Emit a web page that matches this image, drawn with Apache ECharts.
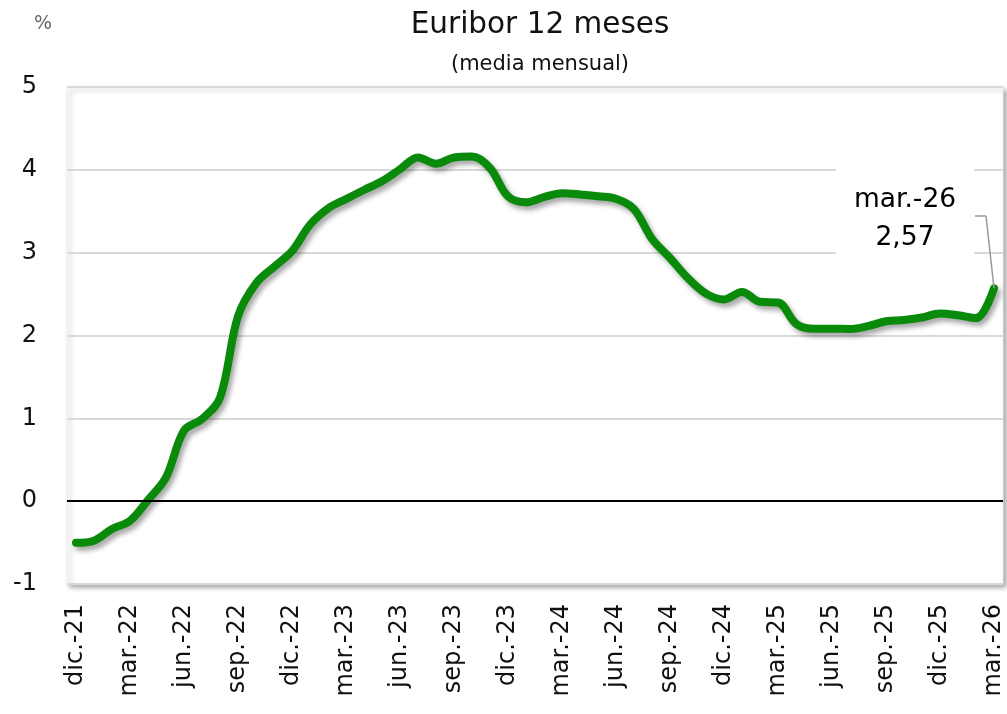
<!DOCTYPE html>
<html>
<head>
<meta charset="utf-8">
<script src="https://cdn.jsdelivr.net/npm/echarts@6/dist/echarts.min.js"></script>
<style>
  html, body { margin: 0; padding: 0; background: #fff; }
  #chart { width: 1007px; height: 714px; }
</style>
</head>
<body>
<div id="chart"></div>
<script>
// meses (dic.-21 a mar.-26)
var months = ['dic.-21',
  'ene.-22','feb.-22','mar.-22','abr.-22','may.-22','jun.-22','jul.-22','ago.-22','sep.-22','oct.-22','nov.-22','dic.-22',
  'ene.-23','feb.-23','mar.-23','abr.-23','may.-23','jun.-23','jul.-23','ago.-23','sep.-23','oct.-23','nov.-23','dic.-23',
  'ene.-24','feb.-24','mar.-24','abr.-24','may.-24','jun.-24','jul.-24','ago.-24','sep.-24','oct.-24','nov.-24','dic.-24',
  'ene.-25','feb.-25','mar.-25','abr.-25','may.-25','jun.-25','jul.-25','ago.-25','sep.-25','oct.-25','nov.-25','dic.-25',
  'ene.-26','feb.-26','mar.-26'];

// Euribor 12 meses, media mensual (%)
var euribor = [-0.502,
  -0.477, -0.335, -0.237, 0.013, 0.287, 0.852, 0.992, 1.249, 2.233, 2.629, 2.828, 3.018,
  3.337, 3.534, 3.647, 3.757, 3.862, 4.007, 4.149, 4.073, 4.149, 4.160, 4.022, 3.679,
  3.609, 3.671, 3.718, 3.703, 3.680, 3.650, 3.526, 3.166, 2.936, 2.691, 2.506, 2.436,
  2.525, 2.407, 2.398, 2.143, 2.081, 2.081, 2.079, 2.114, 2.172, 2.187, 2.217, 2.267,
  2.245, 2.210, 2.570];

var yTicks = [-1, 0, 1, 2, 3, 4, 5];

var FONT = 'DejaVu Sans';
var chart = echarts.init(document.getElementById('chart'));
var last = euribor.length - 1;

var seriesData = euribor.map(function (v, i) {
  if (i !== last) return v;
  // etiqueta del último dato
  return {
    value: v,
    itemStyle: { shadowBlur: 0, shadowColor: 'transparent' },
    label: {
      show: true,
      formatter: function (p) {
        return months[p.dataIndex] + '\n' + p.value.toFixed(2).replace('.', ',');
      },
      position: 'top',
      align: 'center',
      fontFamily: FONT,
      fontSize: 26.5,
      lineHeight: 38,
      color: '#000',
      backgroundColor: '#fff',
      borderWidth: 0,
      shadowColor: 'rgba(0,0,0,0)',
      shadowBlur: 0,
      shadowOffsetX: 0,
      shadowOffsetY: 0,
      textShadowColor: 'rgba(0,0,0,0)',
      textShadowBlur: 0,
      padding: [16, 18, 8, 18]
    }
  };
});

var option = {
  animation: false,
  title: [{
    text: 'Euribor 12 meses',
    subtext: '(media mensual)',
    left: 535,
    textAlign: 'center',
    top: 5,
    itemGap: 14,
    textStyle: { fontFamily: FONT, fontSize: 29.5, fontWeight: 'normal', color: '#111' },
    subtextStyle: { fontFamily: FONT, fontSize: 21, color: '#111' }
  }, {
    text: '%',
    left: 29,
    top: 10,
    textStyle: { fontFamily: FONT, fontSize: 19, fontWeight: 'normal', color: '#666' }
  }],
  grid: {
    left: 67,
    right: 4,
    top: 87,
    bottom: 130,
    show: true,
    backgroundColor: '#fff',
    borderColor: '#f0f0f0',
    borderWidth: 1,
    shadowColor: 'rgba(0,0,0,0.35)',
    shadowBlur: 5,
    shadowOffsetX: 3,
    shadowOffsetY: 3
  },
  xAxis: {
    type: 'category',
    data: months,
    boundaryGap: true,
    axisLine: { show: false },
    axisTick: { show: false },
    axisLabel: {
      interval: 2,
      rotate: 90,
      margin: 20,
      fontFamily: FONT,
      fontSize: 24,
      color: '#111'
    }
  },
  yAxis: {
    type: 'value',
    min: yTicks[0],
    max: yTicks[yTicks.length - 1],
    interval: 1,
    axisLine: { show: false },
    axisTick: { show: false },
    axisLabel: {
      margin: 30,
      fontFamily: FONT,
      fontSize: 24,
      color: '#111'
    },
    splitLine: { lineStyle: { color: '#d9d9d9', width: 2 } }
  },
  series: [{
    type: 'line',
    data: seriesData,
    smooth: 0.35,
    symbol: 'circle',
    symbolSize: 0,
    showSymbol: true,
    showAllSymbol: true,
    lineStyle: {
      color: '#0a8a0a',
      width: 8,
      cap: 'round',
      shadowColor: 'rgba(0,0,0,0.35)',
      shadowBlur: 5,
      shadowOffsetX: 3,
      shadowOffsetY: 4
    },
    labelLayout: function (params) {
      if (params.dataIndex !== last) return {};
      return { dx: -89, dy: -18 };
    },
    markLine: {
      silent: true,
      symbol: 'none',
      label: { show: false },
      lineStyle: { color: '#000', width: 2, type: 'solid' },
      data: [{ yAxis: 0 }]
    },
    z: 3
  }, {
    // línea guía de la etiqueta
    type: 'line',
    data: [],
    silent: true,
    markLine: {
      silent: true,
      symbol: 'none',
      label: { show: false },
      lineStyle: { color: '#999', width: 1.5, type: 'solid' },
      data: [
        [{ x: 975, y: 216 }, { x: 986, y: 216 }],
        [{ x: 986, y: 216 }, { coord: [months[last], euribor[last]] }]
      ]
    },
    z: 2
  }]
};

chart.setOption(option);
</script>
</body>
</html>
